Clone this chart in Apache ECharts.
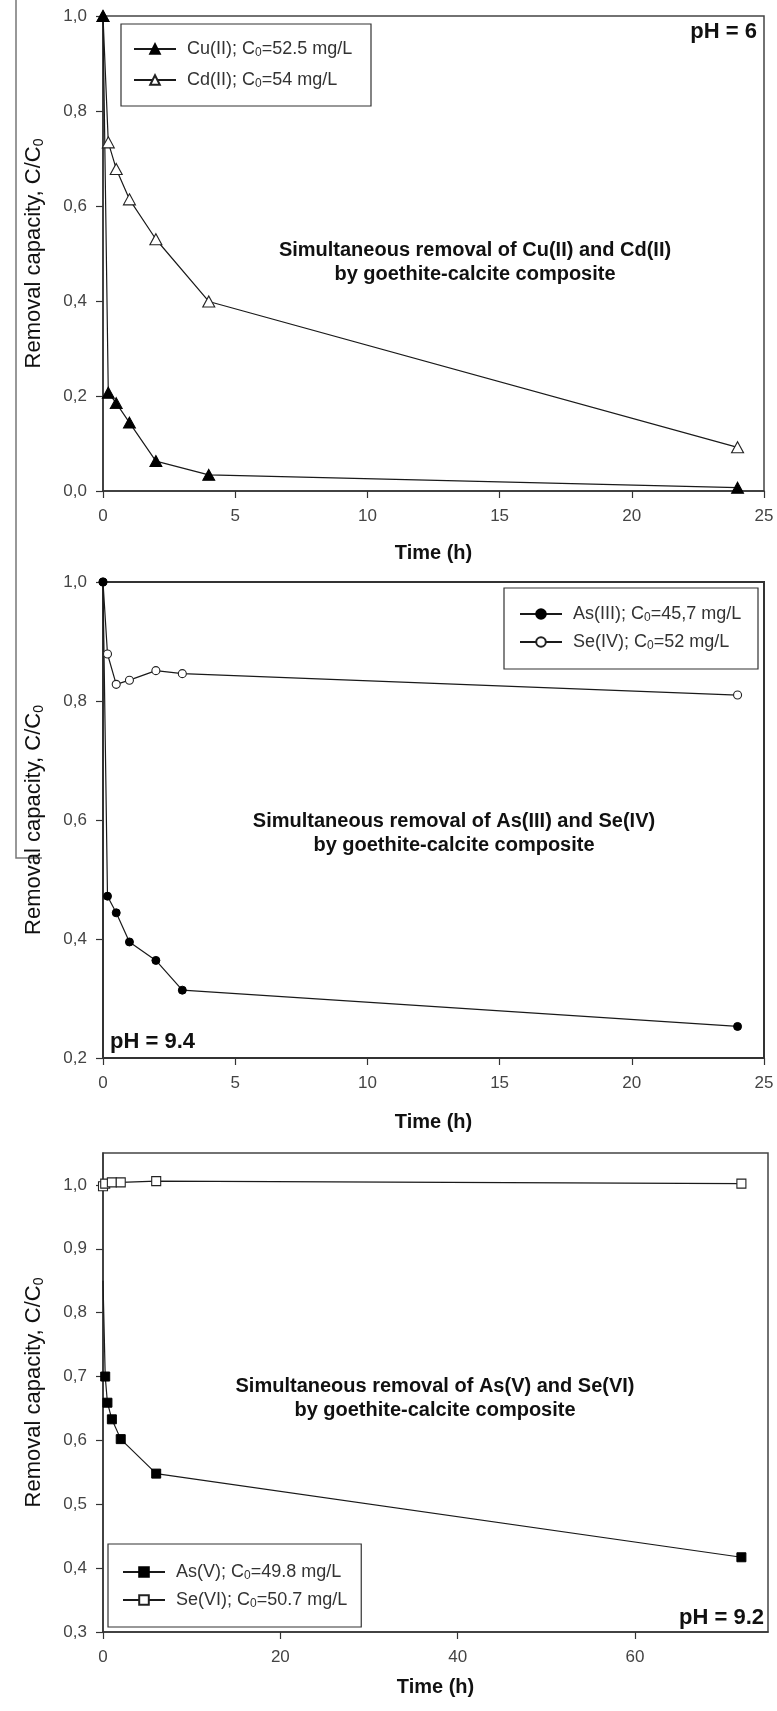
<!DOCTYPE html>
<html>
<head>
<meta charset="utf-8">
<script src="https://cdn.jsdelivr.net/npm/echarts@6/dist/echarts.min.js"></script>
<style>
html,body{margin:0;padding:0;background:#fff;}
#c{width:777px;height:1711px;}
</style>
</head>
<body>
<div id="c"></div>
<script>
// ---- Panel 1: Cu(II) / Cd(II), pH 6 ----
const p1Time = [0, 0.2, 0.5, 1, 2, 4, 24];
const cuII   = [1.0, 0.207, 0.185, 0.144, 0.063, 0.034, 0.007];
const cdII   = [1.0, 0.734, 0.678, 0.614, 0.530, 0.399, 0.092];
const p1Names = ['Cu(II); C0=52.5 mg/L', 'Cd(II); C0=54 mg/L'];

// ---- Panel 2: As(III) / Se(IV), pH 9.4 ----
const p2Time = [0, 0.17, 0.5, 1, 2, 3, 24];
const asIII  = [1.0, 0.472, 0.444, 0.395, 0.364, 0.314, 0.253];
const seIV   = [1.0, 0.879, 0.828, 0.835, 0.851, 0.846, 0.810];
const p2Names = ['As(III); C0=45,7 mg/L', 'Se(IV); C0=52 mg/L'];

// ---- Panel 3: As(V) / Se(VI), pH 9.2 ----
const p3TimeAs = [0, 0.25, 0.5, 1, 2, 6, 72];
const asV      = [0.85, 0.700, 0.659, 0.633, 0.602, 0.548, 0.417];
const p3TimeSe = [0, 0.25, 1, 2, 6, 72];
const seVI     = [0.998, 1.002, 1.004, 1.004, 1.006, 1.002];
const p3Names = ['As(V); C0=49.8 mg/L', 'Se(VI); C0=50.7 mg/L'];

// tick values
const xTicks12 = [0, 5, 10, 15, 20, 25];
const xTicks3  = [0, 20, 40, 60];
const yTicks1  = [0, 0.2, 0.4, 0.6, 0.8, 1.0];
const yTicks2  = [0.2, 0.4, 0.6, 0.8, 1.0];
const yTicks3  = [0.3, 0.4, 0.5, 0.6, 0.7, 0.8, 0.9, 1.0];

const titles = [
  'Simultaneous removal of Cu(II) and Cd(II)\nby goethite-calcite composite',
  'Simultaneous removal of As(III) and Se(IV)\nby goethite-calcite composite',
  'Simultaneous removal of As(V) and Se(VI)\nby goethite-calcite composite'
];
const phLabels = ['pH = 6', 'pH = 9.4', 'pH = 9.2'];
const xName = 'Time (h)';
const yName = 'Removal capacity, C/C{s|0}';

const FONT = '"Liberation Sans", Arial, sans-serif';
const LINE = '#1a1a1a';

function zip(xs, ys) { return xs.map((x, i) => [x, ys[i]]); }
const comma = v => v.toFixed(1).replace('.', ',');

function xAxis(gi, max, ticks, gap) {
  return {
    gridIndex: gi, type: 'value', min: 0, max: max,
    name: xName, nameLocation: 'middle', nameGap: gap,
    nameTextStyle: {fontFamily: FONT, fontSize: 20, fontWeight: 'bold', color: '#111'},
    splitLine: {show: false},
    axisLine: {show: true, lineStyle: {color: '#333', width: 1.5}},
    axisTick: {show: true, length: 7, lineStyle: {color: '#333', width: 1.2}, customValues: ticks},
    axisLabel: {fontFamily: FONT, fontSize: 17, color: '#444', margin: 17, customValues: ticks,
                formatter: v => String(v)}
  };
}
function yAxis(gi, min, max, ticks) {
  return {
    gridIndex: gi, type: 'value', min: min, max: max,
    name: yName, nameLocation: 'middle', nameGap: 57, nameRotate: 90,
    nameTextStyle: {fontFamily: FONT, fontSize: 22, color: '#111',
      rich: {s: {fontFamily: FONT, fontSize: 14, color: '#111', padding: [10, 0, 0, 0]}}},
    splitLine: {show: false},
    axisLine: {show: true, lineStyle: {color: '#333', width: 1.5}},
    axisTick: {show: true, length: 7, lineStyle: {color: '#333', width: 1.2}, customValues: ticks},
    axisLabel: {fontFamily: FONT, fontSize: 17, color: '#444', margin: 16, customValues: ticks,
                formatter: v => comma(v)}
  };
}
function legend(names, left, top, gap, pad, w) {
  return {
    data: names, orient: 'vertical', left: left, top: top,
    itemWidth: 42, itemHeight: 12, itemGap: gap, padding: pad,
    borderColor: '#333', borderWidth: 1.2, backgroundColor: '#fff',
    selectedMode: false,
    formatter: n => n.replace('C0=', 'C{s|0}='),
    textStyle: {fontFamily: FONT, fontSize: 18, color: '#333', lineHeight: 20, width: w, padding: [0, 0, 0, 6],
      rich: {s: {fontFamily: FONT, fontSize: 12, color: '#333', padding: [8, 0, 0, 0]}}}
  };
}
function series(name, xi, data, symbol, size, filled) {
  return {
    name: name, type: 'line', xAxisIndex: xi, yAxisIndex: xi, data: data,
    symbol: symbol, symbolSize: size, showSymbol: true, clip: false,
    lineStyle: {color: LINE, width: 1.2},
    itemStyle: filled ? {color: '#000', borderColor: '#000', borderWidth: 1}
                      : {color: '#fff', borderColor: '#222', borderWidth: 1.1},
    emphasis: {disabled: true}, animation: false
  };
}

const asVData = zip(p3TimeAs, asV).map((d, i) => i === 0 ? {value: d, symbol: 'none'} : d);

function label(text, x, y, size, align, vAlign, lh) {
  return {type: 'text', silent: true, x: x, y: y,
    style: {text: text, fontFamily: FONT, fontSize: size, fontWeight: 'bold', fill: '#111',
            align: align, verticalAlign: vAlign, lineHeight: lh}};
}

const option = {
  backgroundColor: '#fff',
  animation: false,
  grid: [
    {left: 103, top: 16, width: 661, height: 475, show: true, borderColor: '#444', borderWidth: 1.5},
    {left: 103, top: 582, width: 661, height: 476, show: true, borderColor: '#333', borderWidth: 2},
    {left: 103, top: 1153, width: 665, height: 479, show: true, borderColor: '#444', borderWidth: 1.5}
  ],
  xAxis: [xAxis(0, 25, xTicks12, 52), xAxis(1, 25, xTicks12, 54), xAxis(2, 75, xTicks3, 45)],
  yAxis: [yAxis(0, 0, 1, yTicks1), yAxis(1, 0.2, 1, yTicks2), yAxis(2, 0.3, 1.05, yTicks3)],
  legend: [
    legend(p1Names, 121, 24, 11, [15, 15, 16, 12], 169),
    legend(p2Names, 504, 588, 8, [16, 15, 17, 15], 170),
    legend(p3Names, 108, 1544, 8, [18, 14, 17, 14], 170)
  ],
  series: [
    series(p1Names[1], 0, zip(p1Time, cdII), 'triangle', [12, 11], false),
    series(p1Names[0], 0, zip(p1Time, cuII), 'triangle', [12, 11], true),
    series(p2Names[1], 1, zip(p2Time, seIV), 'circle', 8, false),
    series(p2Names[0], 1, zip(p2Time, asIII), 'circle', 8, true),
    series(p3Names[1], 2, zip(p3TimeSe, seVI), 'rect', 9, false),
    series(p3Names[0], 2, asVData, 'rect', 9, true)
  ],
  graphic: [
    {type: 'polyline', silent: true, shape: {points: [[16, 0], [16, 858], [42, 858]]},
     style: {stroke: '#777', lineWidth: 1.5, fill: null}},
    label(titles[0], 475, 262, 20, 'center', 'middle', 24),
    label(titles[1], 454, 833, 20, 'center', 'middle', 24),
    label(titles[2], 435, 1398, 20, 'center', 'middle', 24),
    label(phLabels[0], 757, 32, 22, 'right', 'middle', 26),
    label(phLabels[1], 110, 1042, 22, 'left', 'middle', 26),
    label(phLabels[2], 764, 1618, 22, 'right', 'middle', 26)
  ]
};

const chart = echarts.init(document.getElementById('c'), null, {renderer: 'canvas'});
chart.setOption(option);
</script>
</body>
</html>
